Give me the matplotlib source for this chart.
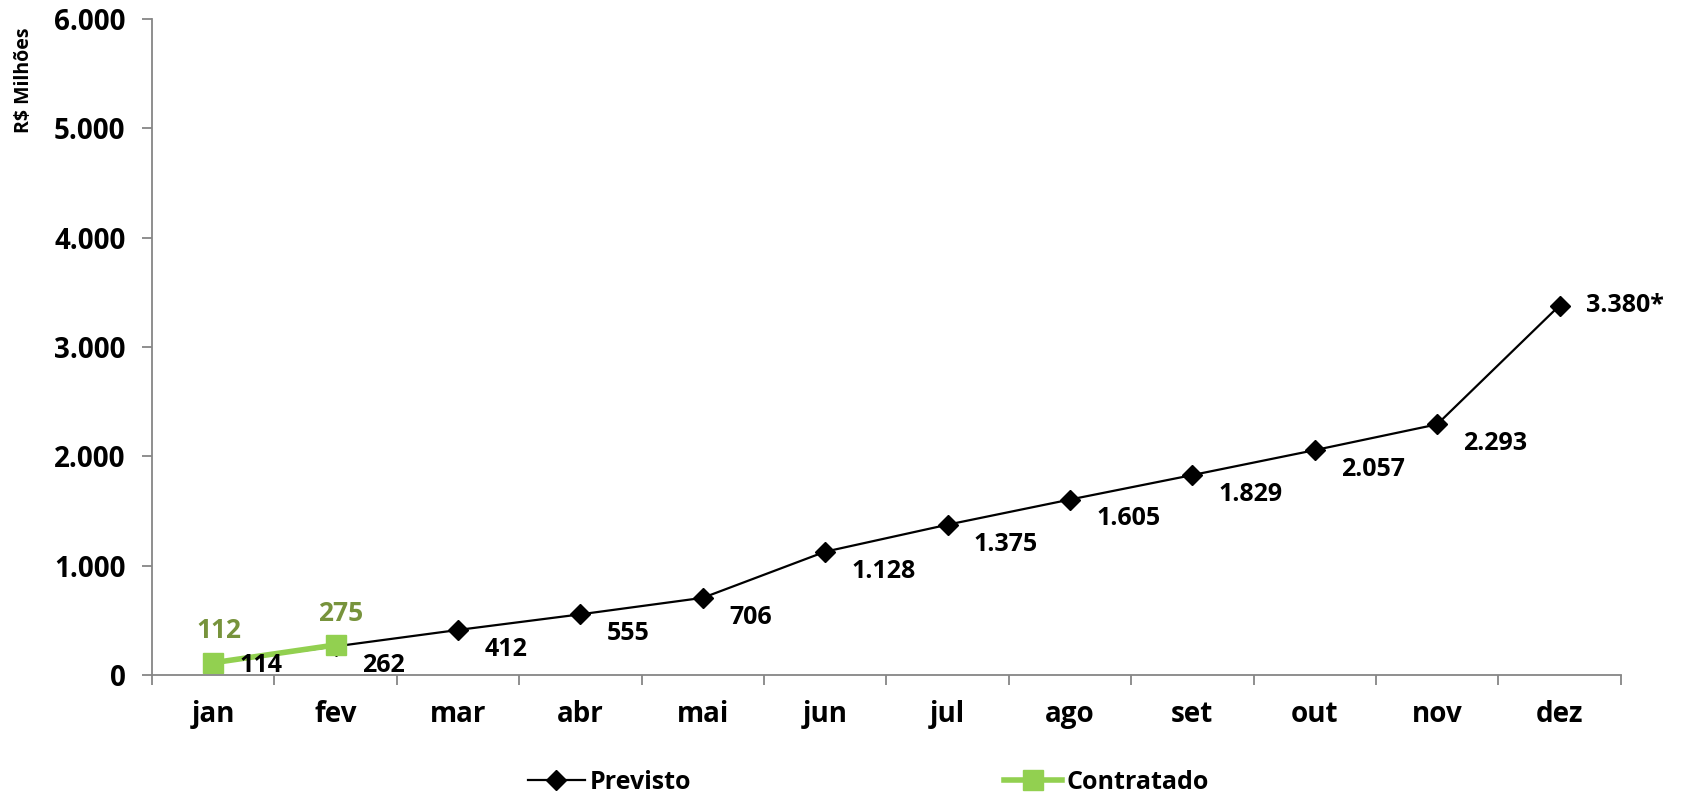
import matplotlib.pyplot as plt
import numpy as np

meses = ['jan', 'fev', 'mar', 'abr', 'mai', 'jun', 'jul', 'ago', 'set', 'out', 'nov', 'dez']
previsto = [114, 262, 412, 555, 706, 1128, 1375, 1605, 1829, 2057, 2293, 3380]
previsto_txt = ['114', '262', '412', '555', '706', '1.128', '1.375', '1.605', '1.829', '2.057', '2.293', '3.380*']
contratado = [112, 275]
yticks = [0, 1000, 2000, 3000, 4000, 5000, 6000]
ytick_txt = ['0', '1.000', '2.000', '3.000', '4.000', '5.000', '6.000']

plt.rcParams['font.family'] = ['Open Sans', 'DejaVu Sans']
plt.rcParams['font.weight'] = 'bold'

fig = plt.figure(figsize=(16.83, 7.96), dpi=100)
ax = fig.add_axes([0.0903, 0.152, 0.8727, 0.824])

x = np.arange(len(meses))
ax.plot(x, previsto, color='black', lw=1.6, marker='D', ms=10, label='Previsto')
xc = x[:len(contratado)]
ax.plot(xc, contratado, color='#92D050', lw=4, marker='s', ms=14, label='Contratado')

# rótulos do previsto: à direita e um pouco abaixo do ponto
n = len(previsto)
for i, v in enumerate(previsto):
    dy = -14
    if i == 0:
        dy = -2
    elif i == n - 1:
        dy = 0
    ax.annotate(previsto_txt[i], (i, v), xytext=(19, dy), textcoords='offset points',
                ha='left', va='center', fontsize=18, fontweight='bold')
for i, v in enumerate(contratado):
    ax.annotate(str(v), (i, v), xytext=(4, 23), textcoords='offset points',
                ha='center', va='center', fontsize=19, fontweight='bold', color='#77933C')

ax.set_xlim(-0.5, len(meses) - 0.5)
ax.set_ylim(0, 6000)
ax.set_yticks(yticks)
ax.set_yticklabels(ytick_txt, fontsize=20, fontweight='bold')
ax.set_xticks(x)
ax.set_xticklabels(meses, fontsize=20, fontweight='bold')
ax.set_xticks(np.arange(-0.5, len(meses)), minor=True)
ax.tick_params(axis='x', which='major', length=0, pad=18)
ax.tick_params(axis='x', which='minor', length=7, color='#868686', width=1.3)
ax.tick_params(axis='y', length=7, color='#868686', width=1.3, pad=12)
for s in ['top', 'right']:
    ax.spines[s].set_visible(False)
for s in ['left', 'bottom']:
    ax.spines[s].set_color('#868686')
    ax.spines[s].set_linewidth(1.3)

fig.text(0.014, 0.965, 'R$ Milhões', rotation=90, ha='center', va='top', fontsize=14, fontweight='bold')

fig.legend(loc='center', bbox_to_anchor=(0.516, 0.017), ncol=2, frameon=False,
           columnspacing=12.5, handlelength=2.3, handletextpad=0.2,
           prop={'weight': 'bold', 'size': 18})

fig.savefig('out.png', dpi=100)
